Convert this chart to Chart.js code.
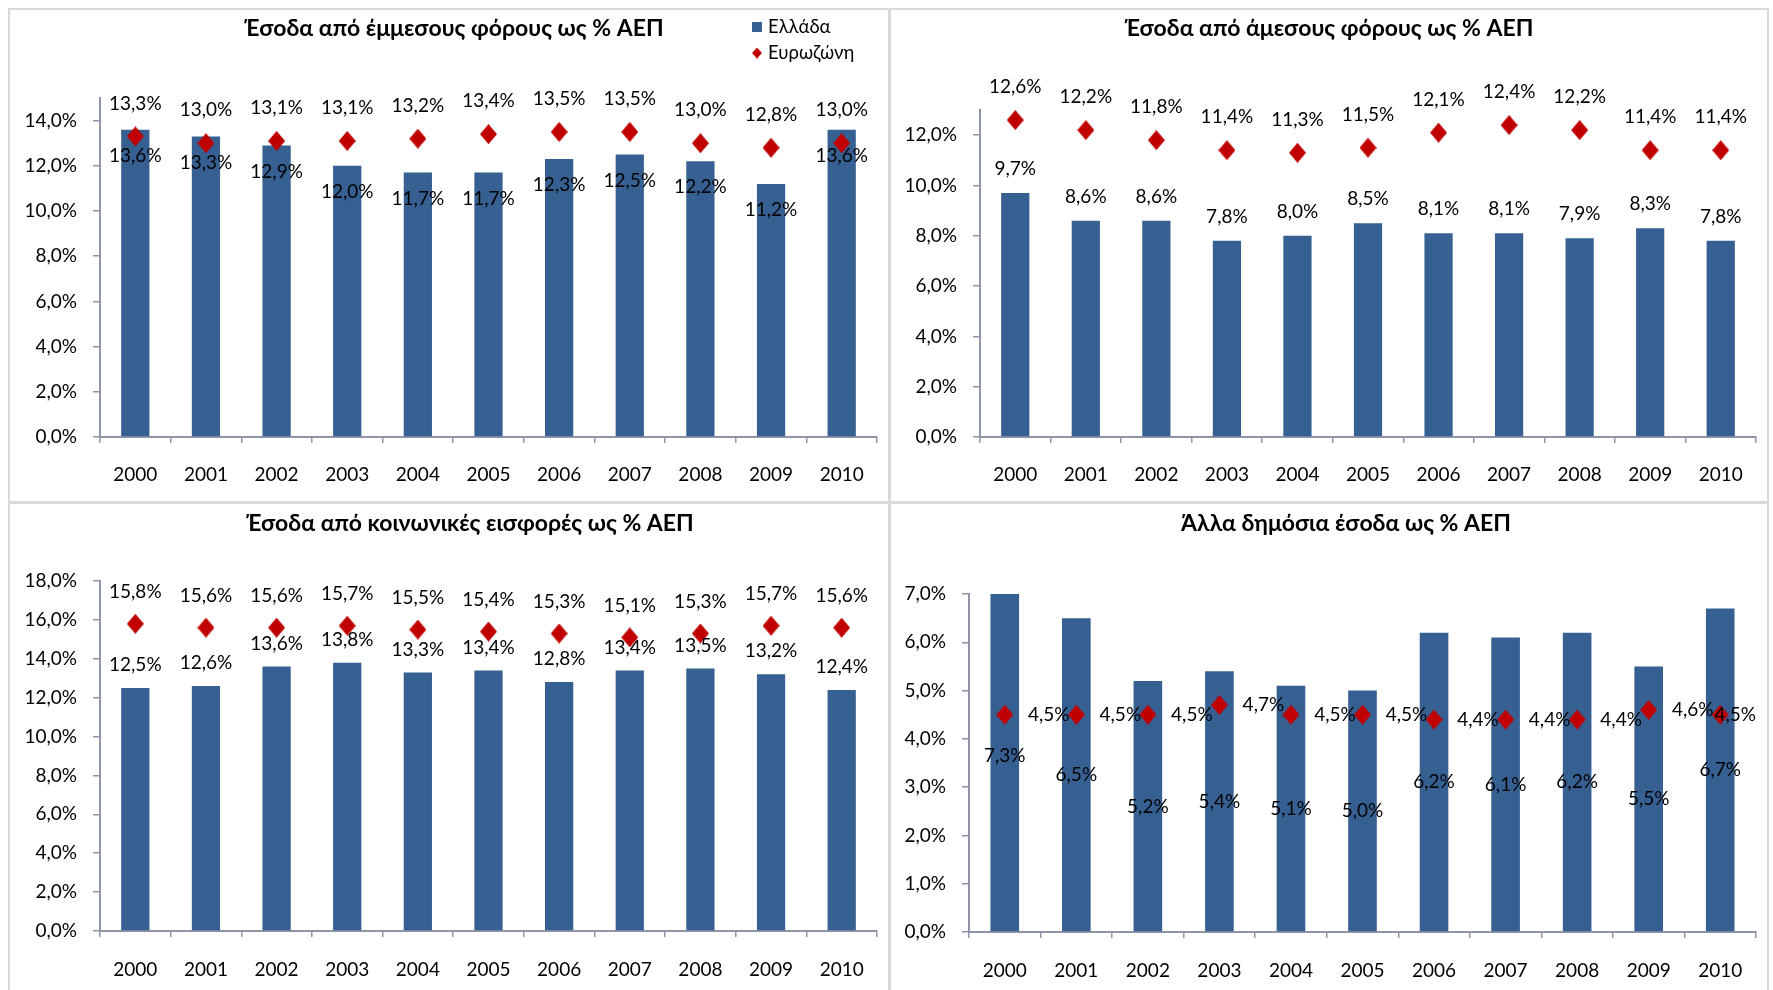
<!DOCTYPE html>
<html><head><meta charset="utf-8">
<script src="https://cdn.jsdelivr.net/npm/chart.js@4.4.1/dist/chart.umd.min.js"></script>
<style>
html,body{margin:0;padding:0;background:#fff;width:1773px;height:990px;overflow:hidden;}
.panel{position:absolute;}
.line{position:absolute;background:#d9d9d9;}
canvas{display:block;}
</style></head><body>
<div class="line" style="left:8px;top:8px;width:1761px;height:2px"></div>
<div class="line" style="left:8px;top:8px;width:2px;height:982px"></div>
<div class="line" style="left:888px;top:8px;width:3px;height:982px"></div>
<div class="line" style="left:1767px;top:8px;width:2px;height:982px"></div>
<div class="line" style="left:8px;top:501px;width:1761px;height:3px"></div>
<div class="panel" style="left:10px;top:10px;width:878px;height:491px"><canvas id="c1"></canvas></div>
<div class="panel" style="left:891px;top:10px;width:876px;height:491px"><canvas id="c2"></canvas></div>
<div class="panel" style="left:10px;top:504px;width:878px;height:486px"><canvas id="c3"></canvas></div>
<div class="panel" style="left:891px;top:504px;width:876px;height:486px"><canvas id="c4"></canvas></div>
<script>
// ---------- data ----------
const years = ['2000','2001','2002','2003','2004','2005','2006','2007','2008','2009','2010'];

const indirectGreece   = [13.6, 13.3, 12.9, 12.0, 11.7, 11.7, 12.3, 12.5, 12.2, 11.2, 13.6];
const indirectEurozone = [13.3, 13.0, 13.1, 13.1, 13.2, 13.4, 13.5, 13.5, 13.0, 12.8, 13.0];

const directGreece     = [9.7, 8.6, 8.6, 7.8, 8.0, 8.5, 8.1, 8.1, 7.9, 8.3, 7.8];
const directEurozone   = [12.6, 12.2, 11.8, 11.4, 11.3, 11.5, 12.1, 12.4, 12.2, 11.4, 11.4];

const socialGreece     = [12.5, 12.6, 13.6, 13.8, 13.3, 13.4, 12.8, 13.4, 13.5, 13.2, 12.4];
const socialEurozone   = [15.8, 15.6, 15.6, 15.7, 15.5, 15.4, 15.3, 15.1, 15.3, 15.7, 15.6];

const otherGreece      = [7.3, 6.5, 5.2, 5.4, 5.1, 5.0, 6.2, 6.1, 6.2, 5.5, 6.7];
const otherEurozone    = [4.5, 4.5, 4.5, 4.7, 4.5, 4.5, 4.4, 4.4, 4.4, 4.6, 4.5];

const ticksIndirect = [0, 2, 4, 6, 8, 10, 12, 14];
const ticksDirect   = [0, 2, 4, 6, 8, 10, 12];
const ticksSocial   = [0, 2, 4, 6, 8, 10, 12, 14, 16, 18];
const ticksOther    = [0, 1, 2, 3, 4, 5, 6, 7];

const titles = [
  'Έσοδα από έμμεσους φόρους ως % ΑΕΠ',
  'Έσοδα από άμεσους φόρους ως % ΑΕΠ',
  'Έσοδα από κοινωνικές εισφορές ως % ΑΕΠ',
  'Άλλα δημόσια έσοδα ως % ΑΕΠ'
];
const seriesNames = ['Ελλάδα', 'Ευρωζώνη'];

// ---------- styles ----------
const FONT = 'Lato, "Noto Sans", sans-serif';
const BAR = '#376092';
const RED = '#c00000';
const AXIS = '#8f94a8';
Chart.defaults.font.family = FONT;
Chart.defaults.color = '#000';

function fmt(v){ return v.toFixed(1).replace('.', ',') + '%'; }
function diamond(w, h, color){
  const c = document.createElement('canvas'); c.width = w; c.height = h;
  const g = c.getContext('2d'); g.fillStyle = color; g.beginPath();
  g.moveTo(w/2, 0); g.lineTo(w, h/2); g.lineTo(w/2, h); g.lineTo(0, h/2); g.closePath(); g.fill();
  return c;
}
const marker = diamond(17, 20, RED);

const decoPlugin = {
  id: 'deco',
  afterDatasetsDraw(chart, args, o){
    const ctx = chart.ctx, ys = chart.scales.y, area = chart.chartArea;
    ctx.save();
    ctx.fillStyle = '#000'; ctx.textBaseline = 'middle'; ctx.textAlign = 'center';
    ctx.font = o.labelFont + 'px ' + FONT;
    o.specs.forEach((spec, di) => {
      const meta = chart.getDatasetMeta(di);
      chart.data.datasets[di].data.forEach((v, i) => {
        const el = meta.data[i]; const txt = fmt(v);
        let x = el.x, y;
        if (spec.pos === 'above') y = ys.getPixelForValue(v) - spec.off;
        else if (spec.pos === 'inside') y = ys.getPixelForValue(v) + spec.off;
        else if (spec.pos === 'center') y = ys.getPixelForValue(v / 2);
        else { y = ys.getPixelForValue(v); const w = ctx.measureText(txt).width; x = Math.min(x + spec.off, area.right - w / 2); }
        ctx.fillText(txt, x, y);
      });
    });
    // title
    ctx.font = 'bold ' + o.titleFont + 'px ' + FONT;
    ctx.fillText(o.title, o.titleX, o.titleY);
    // legend
    if (o.legend) {
      ctx.textAlign = 'left';
      ctx.font = o.legendFont + 'px ' + FONT;
      const L = o.legend;
      ctx.fillStyle = BAR; ctx.fillRect(L.x, L.y1 - 5, 10, 10);
      ctx.drawImage(diamond(10, 11, RED), L.x, L.y2 - 5.5);
      ctx.fillStyle = '#000';
      ctx.fillText(seriesNames[0], L.tx, L.y1);
      ctx.fillText(seriesNames[1], L.tx, L.y2);
    }
    ctx.restore();
  }
};

function makeChart(id, cfg){
  const cv = document.getElementById(id);
  const W = cv.parentNode.clientWidth, H = cv.parentNode.clientHeight;
  return new Chart(cv, {
    type: 'bar',
    data: {
      labels: years,
      datasets: [
        { label: seriesNames[0], data: cfg.greece, backgroundColor: BAR, order: 2,
          categoryPercentage: 1, barPercentage: 0.4 },
        { type: 'line', label: seriesNames[1], data: cfg.euro, showLine: false, order: 1,
          pointStyle: marker, pointRadius: 10, pointHoverRadius: 10,
          backgroundColor: RED, borderColor: RED }
      ]
    },
    plugins: [decoPlugin],
    options: {
      responsive: true, maintainAspectRatio: false, animation: false,
      events: [],
      layout: { padding: { left: 0, top: cfg.top, right: W - cfg.right, bottom: 0 } },
      plugins: {
        legend: { display: false }, title: { display: false }, tooltip: { enabled: false },
        deco: { specs: cfg.specs, labelFont: 19, title: cfg.title, titleX: cfg.titleX, titleY: cfg.titleY,
                titleFont: 23, legend: cfg.legend, legendFont: 18.5 }
      },
      scales: {
        x: {
          offset: true,
          afterFit(s){ s.height = H - cfg.bottom; },
          grid: { display: true, drawOnChartArea: false, drawTicks: true, tickLength: 6, color: AXIS, lineWidth: 1.5, offset: true },
          border: { display: true, color: AXIS, width: 2 },
          ticks: { maxRotation: 0, autoSkip: false, padding: cfg.xPad, font: { size: 19, lineHeight: 1 }, color: '#000' }
        },
        y: {
          min: 0, max: cfg.max,
          afterFit(s){ s.width = cfg.left; },
          afterBuildTicks(s){ s.ticks = cfg.ticks.map(v => ({ value: v })); },
          grid: { display: true, drawOnChartArea: false, drawTicks: true, tickLength: 7, color: AXIS, lineWidth: 1.5 },
          border: { display: true, color: AXIS, width: 2 },
          ticks: { padding: 16, font: { size: 19 }, color: '#000', callback: v => fmt(v) }
        }
      }
    }
  });
}

makeChart('c1', { greece: indirectGreece, euro: indirectEurozone, ticks: ticksIndirect, max: 15,
  left: 90, right: 875, top: 88, bottom: 427, xPad: 22,
  title: titles[0], titleX: 444, titleY: 19,
  legend: { x: 742, tx: 758, y1: 17, y2: 43 },
  specs: [{ pos: 'inside', off: 26 }, { pos: 'above', off: 33 }] });

makeChart('c2', { greece: directGreece, euro: directEurozone, ticks: ticksDirect, max: 13,
  left: 89, right: 875, top: 100, bottom: 427, xPad: 22,
  title: titles[1], titleX: 438, titleY: 19,
  specs: [{ pos: 'above', off: 24 }, { pos: 'above', off: 33 }] });

makeChart('c3', { greece: socialGreece, euro: socialEurozone, ticks: ticksSocial, max: 18,
  left: 90, right: 876, top: 77, bottom: 427, xPad: 23,
  title: titles[2], titleX: 460, titleY: 20,
  specs: [{ pos: 'above', off: 23 }, { pos: 'above', off: 32 }] });

makeChart('c4', { greece: otherGreece, euro: otherEurozone, ticks: ticksOther, max: 7,
  left: 78, right: 871, top: 90, bottom: 428, xPad: 23,
  title: titles[3], titleX: 455, titleY: 20,
  specs: [{ pos: 'center' }, { pos: 'right', off: 44 }] });
</script>
</body></html>
